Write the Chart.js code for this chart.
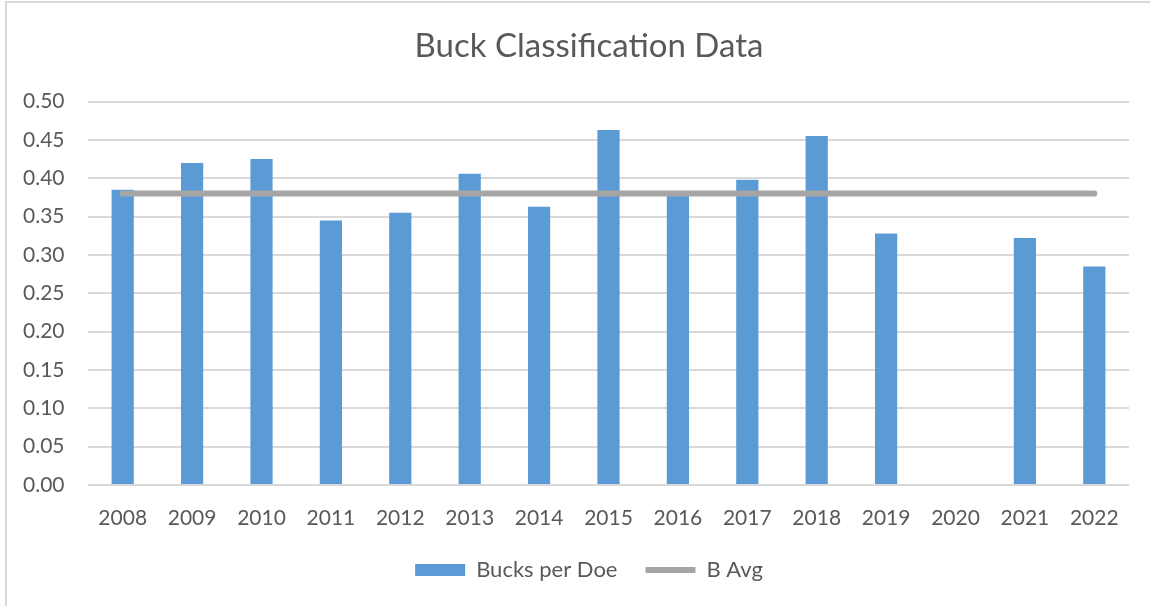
<!DOCTYPE html>
<html>
<head>
<meta charset="utf-8">
<script src="https://cdn.jsdelivr.net/npm/chart.js@4"></script>
<style>
    html, body { margin: 0; padding: 0; background: #fff; }
    #wrap { position: relative; width: 1150px; height: 606px; }
    #frame { position: absolute; left: 5px; top: 1px; right: 0; bottom: 0;
             border-top: 2px solid #d9d9d9; border-left: 2px solid #d9d9d9; pointer-events: none; }
</style>
</head>
<body>
<div id="wrap">
    <canvas id="chart" width="1150" height="606"></canvas>
    <div id="frame"></div>
</div>
<script>
var years = ["2008", "2009", "2010", "2011", "2012", "2013", "2014", "2015",
    "2016", "2017", "2018", "2019", "2020", "2021", "2022"];
var bucksPerDoe = [0.385, 0.420, 0.425, 0.345, 0.355, 0.406, 0.363, 0.463,
    0.380, 0.398, 0.455, 0.328, null, 0.322, 0.285];
var bAvg = [0.38, 0.38, 0.38, 0.38, 0.38, 0.38, 0.38, 0.38,
    0.38, 0.38, 0.38, 0.38, 0.38, 0.38, 0.38];

var textColor = "#595959";
Chart.defaults.font.family = "Lato, 'Open Sans', sans-serif";
Chart.defaults.color = textColor;

var ctx = document.getElementById('chart').getContext('2d');
var chart = new Chart(ctx, {
    type: 'bar',
    data: {
        labels: years,
        datasets: [
            {
                type: 'line',
                label: 'B Avg',
                data: bAvg,
                borderColor: '#a5a5a5',
                backgroundColor: '#a5a5a5',
                borderWidth: 6,
                borderCapStyle: 'round',
                pointRadius: 0,
                pointStyle: 'line',
                order: 1
            },
            {
                label: 'Bucks per Doe',
                data: bucksPerDoe,
                backgroundColor: '#5b9bd5',
                borderWidth: 0,
                pointStyle: 'rect',
                barPercentage: 0.32,
                categoryPercentage: 1,
                order: 2
            }
        ]
    },
    options: {
        responsive: false,
        animation: false,
        // big left padding so title/legend centre like the original,
        // y labels are mirrored with negative padding to sit left of it
        layout: { padding: { left: 49, right: 21, top: 0, bottom: 15 } },
        plugins: {
            title: {
                display: true,
                text: 'Buck Classification Data',
                color: textColor,
                font: { size: 33, weight: 'normal' },
                padding: { top: 27, bottom: 35 }
            },
            legend: {
                position: 'bottom',
                reverse: true,
                labels: {
                    usePointStyle: true,
                    pointStyleWidth: 50,
                    boxHeight: 12,
                    padding: 28,
                    color: textColor,
                    font: { size: 22 }
                }
            },
            tooltip: { enabled: false }
        },
        scales: {
            x: {
                grid: { display: false },
                border: { display: false },
                ticks: { padding: 13, font: { size: 21 }, color: textColor },
                afterFit: function (scale) { scale.height = 46; }
            },
            y: {
                min: 0,
                max: 0.5,
                grid: { color: '#d9d9d9', lineWidth: 2, drawTicks: false },
                border: { display: false },
                ticks: {
                    stepSize: 0.05,
                    mirror: true,
                    padding: -65,
                    font: { size: 21 },
                    color: textColor,
                    callback: function (v) { return v.toFixed(2); }
                },
                afterFit: function (scale) { scale.width = 88 - 49; }
            }
        }
    }
});
</script>
</body>
</html>
